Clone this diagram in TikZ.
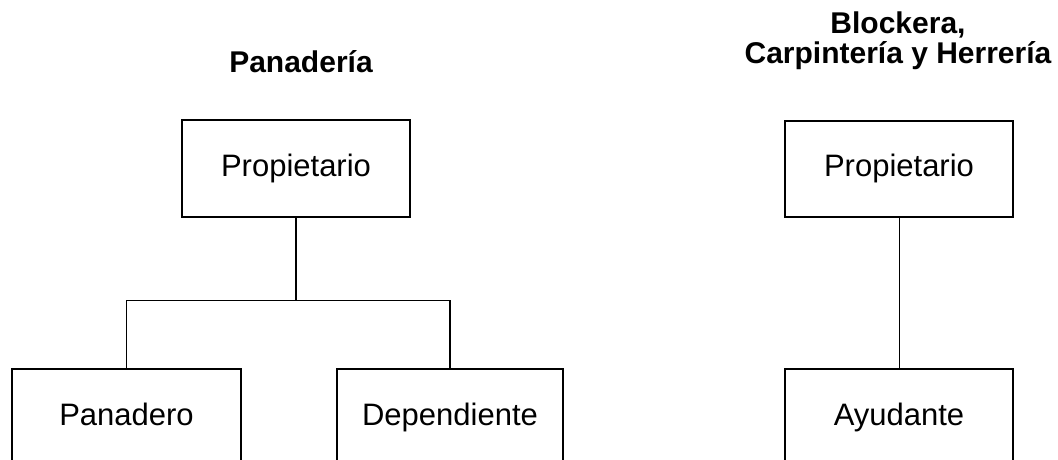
\documentclass[tikz,border=0pt]{standalone}
\usepackage{fontspec}
\setmainfont{Liberation Sans}
\begin{document}
\begin{tikzpicture}[x=1pt,y=-1pt,
  box/.style={draw=black,line width=1.4pt,rectangle,minimum width=228pt,minimum height=97pt,inner sep=0pt,
    text height=22pt,text depth=7pt,font=\fontsize{31}{31}\selectfont},
  title/.style={font=\fontsize{30}{30}\selectfont\bfseries,align=center,inner sep=0pt,anchor=base},
  conn/.style={line width=1.3pt},
  thin conn/.style={line width=0.9pt}]
\useasboundingbox (0,0) rectangle (1058,460);
\node[title] (t1) at (301,73) {Panadería};
\node[title] (t2) at (898,64) {Blockera,\\[0pt]Carpintería y Herrería};
\node[box] (p1) at (296,168.5) {Propietario};
\node[box,minimum width=229pt] (pan) at (126.5,417.5) {Panadero};
\node[box,minimum width=226pt] (dep) at (450,417.5) {Dependiente};
\node[box,minimum height=96pt] (p2) at (899,169) {Propietario};
\node[box] (ayu) at (899,417.5) {Ayudante};
\draw[conn] (p1.south) -- ++(0,83) coordinate (j);
\draw[conn] (pan.north) |- (j) -| (dep.north);
\draw[thin conn] (p2.south) -- (ayu.north);
\end{tikzpicture}
\end{document}
